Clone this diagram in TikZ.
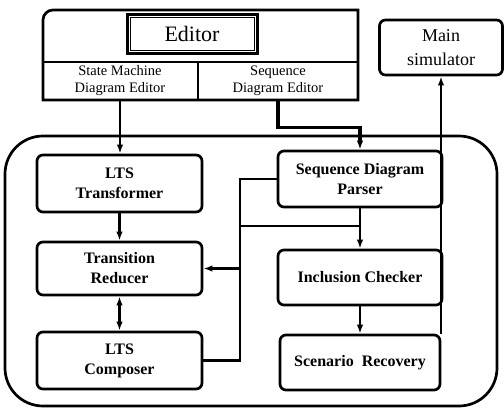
\documentclass[tikz,border=0pt]{standalone}
\usepackage{fontspec}
\setmainfont{Liberation Serif}
\usetikzlibrary{arrows.meta}
\begin{document}
\begin{tikzpicture}[x=1pt,y=-1pt,
  box/.style={draw,line width=2.7pt,rounded corners=6pt,inner sep=0pt,align=center,
    font=\fontsize{16}{20}\selectfont\bfseries},
  cell/.style={inner sep=0pt,align=center,font=\fontsize{14.5}{17}\selectfont},
  link/.style={line width=2.7pt},
  tip/.tip={Latex[length=9pt,width=6.5pt]},
  arr/.style={link,-tip}]
\useasboundingbox (0,0) rectangle (504,408);

% editor panel: frame with one rounded corner, split into two sub-editors
\draw[line width=2.7pt] (43,100) -- (43,20) arc[start angle=180,end angle=270,radius=10]
  -- (358,10) -- (358,100) -- cycle;
\draw[line width=2.4pt] (43,62) -- (358,62);
\draw[line width=2.4pt] (198,62) -- (198,100);
\node[draw,line width=3pt,minimum width=130,minimum height=39,inner sep=0pt,
  font=\fontsize{22}{24}\selectfont] (ed) at (192,33.5) {Editor};
\draw[line width=1pt] ([shift={(4.5,4.5)}]ed.north west) rectangle ([shift={(-4.5,-4.5)}]ed.south east);
\node[cell,minimum width=155,minimum height=38] (sm) at (120,81) {State Machine\\Diagram Editor};
\node[cell,minimum width=160,minimum height=38] (sq) at (278,81) {Sequence\\Diagram Editor};

% main simulator
\node[draw,line width=2.7pt,rounded corners=6pt,inner sep=0pt,align=center,
  minimum width=123,minimum height=55,font=\fontsize{18}{24}\selectfont] (ms) at (441,47.5)
  {Main\\simulator};

% verification system container
\node[draw,line width=2.7pt,rounded corners=38pt,minimum width=492,minimum height=270,
  inner sep=0pt] (sys) at (251,271) {};

% components
\node[box,minimum width=165,minimum height=57] (tr) at (119.5,183.5) {LTS\\Transformer};
\node[box,minimum width=165,minimum height=53] (rd) at (119.5,268.5) {Transition\\Reducer};
\node[box,minimum width=165,minimum height=57] (cp) at (119.5,360.5) {LTS\\Composer};
\node[box,minimum width=164,minimum height=56] (ps) at (360,179) {Sequence Diagram\\Parser};
\node[box,minimum width=164,minimum height=55] (ck) at (360,277.5) {Inclusion Checker};
\node[box,minimum width=160,minimum height=55] (sr) at (360,362.5) {Scenario\ \ Recovery};

\coordinate (trunk) at (240,180);
\coordinate (tap) at (240,226);

% connectors
\draw[arr] (sm.south) -- (sm.south |- tr.north);
\draw[link,line width=3.2pt,-tip] (sq.south) -- ++(0,27) -| (ps.north);
\draw[arr] (tr.south) -- (rd.north);
\draw[link,tip-tip] (rd.south) -- (cp.north);
\draw[link] (ps.west) -| (trunk |- cp.east) -- (cp.east);
\draw[arr] (trunk |- rd.east) -- (rd.east);
\draw[link] (tap) -- (tap -| ps.south);
\draw[arr] (ps.south) -- (ps.south |- ck.north);
\draw[arr] (ck.south) -- (sr.north);
\draw[arr] (ms.south |- sr.north) -- (ms.south);
\end{tikzpicture}
\end{document}
